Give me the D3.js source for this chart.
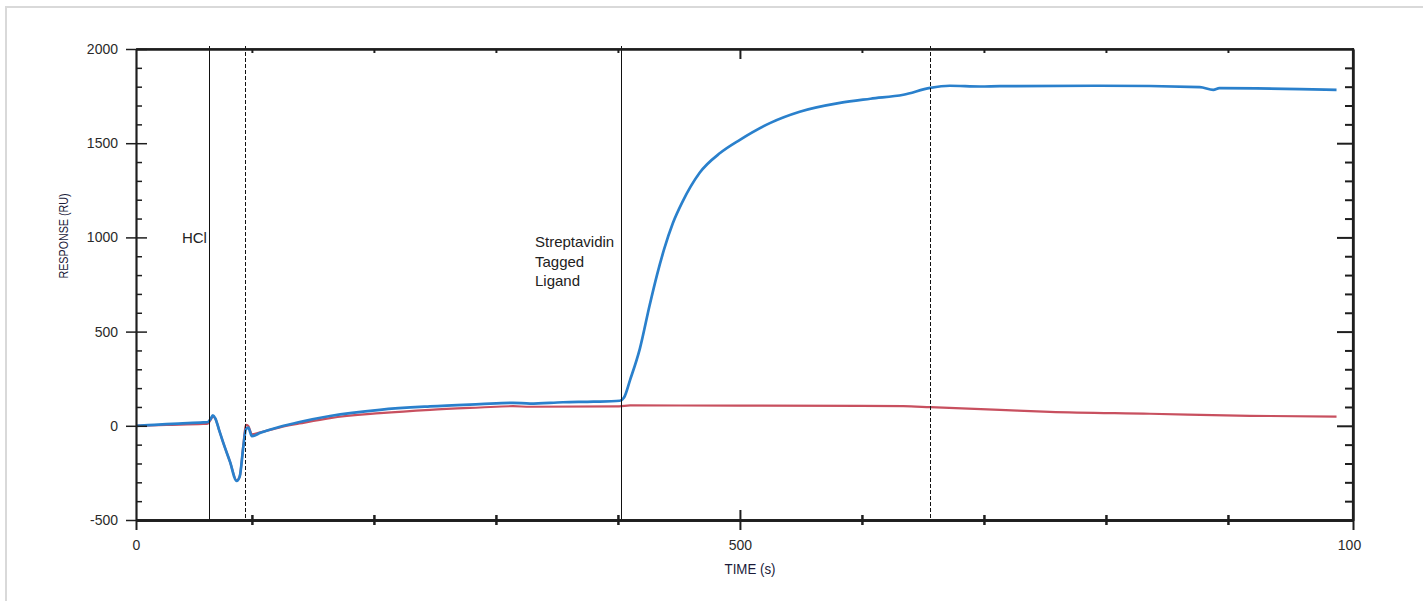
<!DOCTYPE html>
<html>
<head>
<meta charset="utf-8">
<script src="https://cdn.jsdelivr.net/npm/d3@7"></script>
<style>
  html, body { margin: 0; padding: 0; background: #fff; }
  svg { display: block; font-family: "Liberation Sans", Arial, sans-serif; }
</style>
</head>
<body>
<svg id="chart" width="1423" height="601"></svg>
<script>
// ---- data ----
const sampleTime  = [5, 20, 40, 60, 64, 66, 68, 70, 73, 76, 82, 87.5, 90, 93, 95, 97, 100, 107, 123, 139, 164, 205, 246, 287, 314, 328, 355, 380, 401.6, 405, 410, 418, 426, 432, 438, 445, 453, 467, 484, 500, 525, 549, 582, 607, 634, 656, 672, 697, 713, 795, 877, 888, 893, 959, 989];
const sampleValue = [0, 5, 12, 18, 20, 35, 55, 40, -20, -80, -190, -293, -270, -110, -20, -10, -55, -37, -5, 20, 52, 85, 103, 115, 122, 118, 125, 128, 133, 150, 244, 410, 640, 800, 940, 1075, 1190, 1343, 1449, 1518, 1608, 1667, 1714, 1736, 1757, 1794, 1805, 1801, 1803, 1805, 1798, 1783, 1792, 1787, 1783];
const referenceTime  = [5, 30, 60, 64, 66, 68, 70, 73, 76, 82, 87.5, 90, 93, 95, 97, 100, 107, 123, 139, 164, 205, 246, 287, 314, 328, 401, 410, 500, 600, 634, 656, 713, 754, 836, 918, 989];
const referenceValue = [0, 5, 10, 12, 30, 48, 38, -20, -80, -190, -290, -268, -100, 5, 0, -45, -35, -8, 12, 41, 67, 85, 97, 104, 101, 103, 108, 107, 106, 104, 99, 85, 74, 64, 53, 49];
const eventTimes  = [64.8, 94.3, 402.5, 656];
const eventDashed = [false, true, false, true];
const yMajorTicks = [-500, 0, 500, 1000, 1500, 2000];
const yMinorTicks = [-400, -300, -200, -100, 100, 200, 300, 400, 600, 700, 800, 900, 1100, 1200, 1300, 1400, 1600, 1700, 1800, 1900];
const xMinorTicks = [100, 200, 300, 400, 600, 700, 800, 900];
const xMajorTicks = [500];
const xEndLabels  = ["0", "100"];
const annotHCl = ["HCl"];
const annotStrep = ["Streptavidin", "Tagged", "Ligand"];

// ---- layout ----
const L = 136, R = 1353, T = 49, B = 520;
const xDomain = [5, 1002.5];
const svg = d3.select("#chart");

// outer frame
svg.append("rect").attr("x", 6).attr("y", 7).attr("width", 1500).attr("height", 700)
  .attr("fill", "none").attr("stroke", "#d9d9d9").attr("stroke-width", 2);

const x = d3.scaleLinear().domain(xDomain).range([L, R]);
const y = d3.scaleLinear().domain([-500, 2000]).range([B, T]);

const axisColor = "#1e1e1e";
function styleAxis(g, sw) {
  g.selectAll("path.domain").attr("stroke", axisColor).attr("stroke-width", sw);
  g.selectAll(".tick line").attr("stroke", axisColor).attr("stroke-width", sw);
  g.selectAll(".tick text").attr("fill", "#2a2a2a").attr("font-size", 14);
}
const hyphenFmt = d => String(d);

// ---- series ----
const line = d3.line().x(d => x(d[0])).y(d => y(d[1])).curve(d3.curveMonotoneX);
const refData = referenceTime.map((t, i) => [t, referenceValue[i]]);
const smpData = sampleTime.map((t, i) => [t, sampleValue[i]]);

svg.append("path").datum(refData).attr("d", line)
  .attr("fill", "none").attr("stroke", "#c8505f").attr("stroke-width", 2.2).attr("stroke-linejoin", "round");
svg.append("path").datum(smpData).attr("d", line)
  .attr("fill", "none").attr("stroke", "#2a80cc").attr("stroke-width", 2.7).attr("stroke-linejoin", "round");

// ---- event lines ----
svg.append("g").selectAll("line").data(eventTimes).join("line")
  .attr("x1", d => Math.round(x(d)) + 0.5).attr("x2", d => Math.round(x(d)) + 0.5)
  .attr("y1", T - 3).attr("y2", B)
  .attr("stroke", "#111").attr("stroke-width", 1)
  .attr("stroke-dasharray", (d, i) => eventDashed[i] ? "4,2" : null);

// ---- axes ----
const gLeft = svg.append("g").attr("transform", `translate(${L},0)`)
  .call(d3.axisLeft(y).tickValues(yMajorTicks).tickSize(10).tickSizeOuter(0).tickPadding(8).tickFormat(hyphenFmt));
styleAxis(gLeft, 1.5);
const gLeftIn1 = svg.append("g").attr("transform", `translate(${L},0)`)
  .call(d3.axisRight(y).tickValues(yMajorTicks).tickSize(11).tickSizeOuter(0).tickFormat(""));
styleAxis(gLeftIn1, 1.5);
const gLeftIn2 = svg.append("g").attr("transform", `translate(${L},0)`)
  .call(d3.axisRight(y).tickValues(yMinorTicks).tickSize(6).tickSizeOuter(0).tickFormat(""));
styleAxis(gLeftIn2, 1.5);

const gRight1 = svg.append("g").attr("transform", `translate(${R},0)`)
  .call(d3.axisLeft(y).tickValues(yMajorTicks.filter(v => v > -500 && v < 2000)).tickSize(16).tickSizeOuter(0).tickFormat(""));
styleAxis(gRight1, 2);
const gRight2 = svg.append("g").attr("transform", `translate(${R},0)`)
  .call(d3.axisLeft(y).tickValues(yMinorTicks).tickSize(8).tickSizeOuter(0).tickFormat(""));
styleAxis(gRight2, 2);

const gTop1 = svg.append("g").attr("transform", `translate(0,${T})`)
  .call(d3.axisBottom(x).tickValues(xMinorTicks).tickSize(4).tickSizeOuter(0).tickFormat(""));
styleAxis(gTop1, 2);
const gTop2 = svg.append("g").attr("transform", `translate(0,${T})`)
  .call(d3.axisBottom(x).tickValues(xMajorTicks).tickSize(10).tickSizeOuter(0).tickFormat(""));
styleAxis(gTop2, 2);

const gBot1 = svg.append("g").attr("transform", `translate(0,${B})`)
  .call(d3.axisBottom(x).tickValues(xMinorTicks).tickSize(5).tickSizeOuter(0).tickFormat(""));
styleAxis(gBot1, 2.5);
const gBot1b = svg.append("g").attr("transform", `translate(0,${B})`)
  .call(d3.axisTop(x).tickValues(xMinorTicks).tickSize(5).tickSizeOuter(0).tickFormat(""));
styleAxis(gBot1b, 2.5);
const gBot2b = svg.append("g").attr("transform", `translate(0,${B})`)
  .call(d3.axisTop(x).tickValues(xMajorTicks).tickSize(10).tickSizeOuter(0).tickFormat(""));
styleAxis(gBot2b, 2);
const gBot2 = svg.append("g").attr("transform", `translate(0,${B})`)
  .call(d3.axisBottom(x).tickValues(xMajorTicks.concat(xDomain)).tickSize(10).tickSizeOuter(0).tickPadding(10)
    .tickFormat(d => d === xDomain[0] ? xEndLabels[0] : d === xDomain[1] ? xEndLabels[1] : String(d)));
styleAxis(gBot2, 2);
gBot2.select("path.domain").attr("stroke-width", 1.5);
gBot2.selectAll(".tick text").filter(d => d === xDomain[1]).attr("dx", -4);

svg.append("line").attr("x1", x(xDomain[0])).attr("x2", x(xDomain[1])).attr("y1", y(2000)).attr("y2", y(2000))
  .attr("stroke", axisColor).attr("stroke-width", 1.5);
svg.append("line").attr("x1", x(xDomain[1])).attr("x2", x(xDomain[1])).attr("y1", y(2000) - 1).attr("y2", y(-500) + 1)
  .attr("stroke", axisColor).attr("stroke-width", 2.2);

// ---- axis titles ----
svg.append("text").attr("x", 750).attr("y", 574).attr("text-anchor", "middle")
  .attr("font-size", 14).attr("textLength", 51).attr("lengthAdjust", "spacingAndGlyphs")
  .attr("fill", "#1b1b3a").text("TIME (s)");
svg.append("text").attr("transform", "translate(68,236) rotate(-90)").attr("text-anchor", "middle")
  .attr("font-size", 13.5).attr("textLength", 85).attr("lengthAdjust", "spacingAndGlyphs")
  .attr("fill", "#1b1b3a").text("RESPONSE (RU)");

// ---- annotations ----
svg.append("text").attr("x", x(eventTimes[0]) - 2).attr("y", y(1000) + 6).attr("text-anchor", "end")
  .attr("font-size", 15).attr("fill", "#222").text(annotHCl[0]);
const gs = svg.append("text").attr("x", x(eventTimes[2]) - 86).attr("y", y(1000) + 10)
  .attr("font-size", 15).attr("fill", "#222");
annotStrep.forEach((s, i) => gs.append("tspan").attr("x", x(eventTimes[2]) - 86).attr("dy", i === 0 ? 0 : 19.5).text(s));
</script>
</body>
</html>
